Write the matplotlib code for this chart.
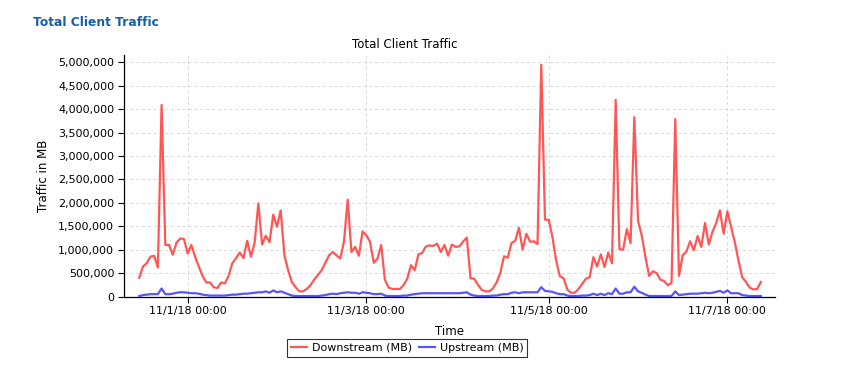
import datetime as dt
import pandas as pd
import matplotlib
matplotlib.use("Agg")
import matplotlib.pyplot as plt
import matplotlib.dates as mdates
from matplotlib.ticker import StrMethodFormatter

tz = "America/New_York"

# hourly samples, millions of MB
downstream = [
    0.40, 0.64, 0.71, 0.85, 0.87, 0.62, 4.09, 1.10, 1.10, 0.89,
    1.15, 1.24, 1.23, 0.92, 1.10, 0.85, 0.64, 0.44, 0.30, 0.30,
    0.20, 0.18, 0.30, 0.28, 0.44, 0.71, 0.82, 0.94, 0.82, 1.19,
    0.85, 1.15, 1.99, 1.11, 1.30, 1.16, 1.75, 1.49, 1.84, 0.88,
    0.56, 0.31, 0.20, 0.11, 0.11, 0.16, 0.24, 0.36, 0.46, 0.56,
    0.72, 0.88, 0.95, 0.88, 0.81, 1.17, 2.07, 0.95, 1.06, 0.87,
    1.39, 1.31, 1.17, 0.72, 0.81, 1.10, 0.35, 0.19, 0.16, 0.16,
    0.16, 0.24, 0.38, 0.67, 0.56, 0.90, 0.93, 1.07, 1.09, 1.08,
    1.13, 0.95, 1.10, 0.87, 1.11, 1.06, 1.07, 1.17, 1.26, 0.39,
    0.38, 0.25, 0.14, 0.11, 0.11, 0.17, 0.30, 0.50, 0.86, 0.83,
    1.14, 1.19, 1.47, 1.00, 1.34, 1.17, 1.18, 1.12, 4.95, 1.64,
    1.64, 1.27, 0.77, 0.43, 0.39, 0.15, 0.08, 0.08, 0.16, 0.27,
    0.38, 0.41, 0.84, 0.64, 0.90, 0.63, 0.94, 0.71, 4.20, 1.01,
    1.00, 1.44, 1.14, 3.83, 1.62, 1.30, 0.84, 0.44, 0.54, 0.50,
    0.36, 0.33, 0.24, 0.29, 3.79, 0.44, 0.88, 0.96, 1.18, 0.99,
    1.29, 1.06, 1.57, 1.11, 1.38, 1.57, 1.84, 1.34, 1.82, 1.49,
    1.16, 0.76, 0.41, 0.31, 0.19, 0.15, 0.16, 0.31,
]
upstream = [
    0.01, 0.03, 0.04, 0.05, 0.05, 0.05, 0.17, 0.05, 0.05, 0.06,
    0.08, 0.09, 0.09, 0.08, 0.07, 0.07, 0.06, 0.04, 0.03, 0.02,
    0.02, 0.02, 0.02, 0.02, 0.03, 0.04, 0.04, 0.05, 0.06, 0.06,
    0.07, 0.08, 0.09, 0.09, 0.11, 0.08, 0.13, 0.09, 0.11, 0.08,
    0.05, 0.02, 0.01, 0.01, 0.01, 0.01, 0.01, 0.01, 0.01, 0.02,
    0.03, 0.05, 0.06, 0.05, 0.07, 0.08, 0.09, 0.08, 0.08, 0.06,
    0.09, 0.08, 0.07, 0.05, 0.05, 0.06, 0.02, 0.01, 0.01, 0.01,
    0.01, 0.02, 0.02, 0.04, 0.05, 0.06, 0.07, 0.07, 0.07, 0.07,
    0.07, 0.07, 0.07, 0.07, 0.07, 0.07, 0.07, 0.08, 0.09, 0.04,
    0.02, 0.01, 0.01, 0.01, 0.01, 0.02, 0.02, 0.04, 0.05, 0.05,
    0.08, 0.09, 0.07, 0.09, 0.09, 0.09, 0.09, 0.09, 0.20, 0.12,
    0.11, 0.10, 0.07, 0.05, 0.05, 0.02, 0.01, 0.01, 0.01, 0.02,
    0.02, 0.03, 0.06, 0.03, 0.06, 0.03, 0.07, 0.05, 0.17, 0.06,
    0.06, 0.09, 0.09, 0.21, 0.11, 0.08, 0.04, 0.01, 0.01, 0.01,
    0.01, 0.01, 0.01, 0.01, 0.11, 0.03, 0.04, 0.05, 0.06, 0.06,
    0.06, 0.07, 0.08, 0.07, 0.08, 0.10, 0.12, 0.08, 0.13, 0.07,
    0.07, 0.07, 0.03, 0.02, 0.01, 0.01, 0.01, 0.01,
]
tick_days = ["2018-11-01", "2018-11-03", "2018-11-05", "2018-11-07"]
tick_labels = ["11/1/18 00:00", "11/3/18 00:00", "11/5/18 00:00", "11/7/18 00:00"]

times = pd.date_range("2018-10-31 11:00", periods=len(downstream), freq="h", tz=tz)
x = mdates.date2num(times.to_pydatetime())
ticks = mdates.date2num([pd.Timestamp(d, tz=tz).to_pydatetime() for d in tick_days])

fig = plt.figure(figsize=(8.51, 3.78), dpi=100)
ax = fig.add_axes([0.1457, 0.2156, 0.765, 0.639])

ax.plot(x, [v * 1e6 for v in downstream], color="#ff4d4d", lw=1.6, alpha=0.95,
        label="Downstream (MB)")
ax.plot(x, [v * 1e6 for v in upstream], color="#4d4dff", lw=1.6, alpha=0.95,
        label="Upstream (MB)")

start = times[0].to_pydatetime()
ax.set_xlim(mdates.date2num(start - dt.timedelta(hours=4.1)),
            mdates.date2num(start + dt.timedelta(hours=170.8)))
ax.set_ylim(0, 5.16e6)

ax.set_xticks(ticks)
ax.set_xticklabels(tick_labels)
ax.set_yticks([i * 500000 for i in range(11)])
ax.yaxis.set_major_formatter(StrMethodFormatter("{x:,.0f}"))
ax.tick_params(labelsize=8, length=4, width=0.8, color="black", pad=3)

ax.grid(True, color="#d9d9d9", linestyle=(0, (3, 3)), linewidth=0.7)
ax.set_axisbelow(True)
for s in ["top", "right"]:
    ax.spines[s].set_visible(False)
ax.spines["left"].set_linewidth(0.9)
ax.spines["bottom"].set_linewidth(0.9)
ax.spines["bottom"].set_linestyle((0, (2, 1)))

ax.set_xlabel("Time", fontsize=8.5, labelpad=6)
ax.set_ylabel("Traffic in MB", fontsize=8.5, labelpad=6)

fig.text(33 / 851, 1 - 22 / 378, "Total Client Traffic", fontsize=8.8,
         fontweight="bold", color="#1560a8", va="center", ha="left")
fig.text(405 / 851, 1 - 44 / 378, "Total Client Traffic", fontsize=8.5,
         va="center", ha="center")

leg = fig.legend(loc="center", bbox_to_anchor=(407 / 851, 1 - 348 / 378),
                 ncol=2, fontsize=8, frameon=True, fancybox=False,
                 handlelength=1.5, handletextpad=0.4, columnspacing=0.6,
                 borderpad=0.35, borderaxespad=0)
leg.get_frame().set_edgecolor("black")
leg.get_frame().set_linewidth(0.8)

fig.savefig("out.png", dpi=100)
